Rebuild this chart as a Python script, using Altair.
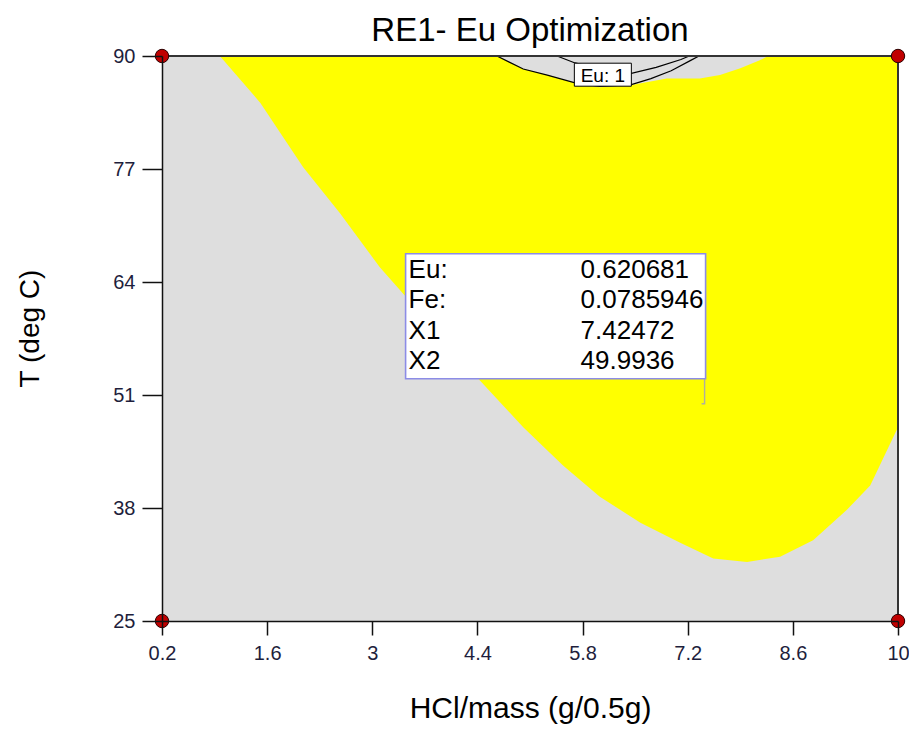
import altair as alt
import pandas as pd

# axis ranges and tick values
x_domain = [0.2, 10.0]
y_domain = [25.0, 90.0]
x_ticks = [0.2, 1.6, 3, 4.4, 5.8, 7.2, 8.6, 10]
y_ticks = [25, 38, 51, 64, 77, 90]

# lower edge of the yellow (feasible) region
edge_x = [0.97, 1.51, 2.08, 2.57, 3.10, 4.43, 5.01, 5.54, 6.03, 6.57, 7.10, 7.54,
          7.99, 8.43, 8.87, 9.32, 9.63, 10.0]
edge_y = [90.0, 84.6, 77.2, 71.9, 65.7, 52.7, 47.3, 42.9, 39.3, 36.3, 34.0, 32.2,
          31.8, 32.4, 34.3, 37.8, 40.6, 47.3]

# grey pocket cut out at the top of the region (Eu above its limit)
pocket_x = [4.66, 5.01, 5.33, 5.70, 6.03, 6.47, 6.92, 7.36, 7.63, 7.90, 8.16, 8.27]
pocket_y = [90.0, 88.5, 87.8, 86.9, 86.4, 86.7, 87.4, 87.4, 87.8, 88.6, 89.5, 90.0]

# Eu = 1 contour lines
contour_outer_x = [4.66, 5.01, 5.33, 5.70, 6.03, 6.45, 6.71, 6.98, 7.24, 7.35]
contour_outer_y = [90.0, 88.5, 87.8, 86.9, 86.5, 86.7, 87.4, 88.3, 89.5, 90.0]
contour_inner_x = [5.46, 5.70, 6.03, 6.45, 6.78, 7.11, 7.22]
contour_inner_y = [90.0, 89.2, 88.5, 88.0, 88.7, 89.6, 90.0]
contour_label = "Eu: 1"
contour_label_at = [6.07, 87.85]

# flag readout
flag_names = ["Eu:", "Fe:", "X1", "X2"]
flag_values = ["0.620681", "0.0785946", "7.42472", "49.9936"]
flag_point = [float(flag_values[2]), float(flag_values[3])]

FONT = "Liberation Sans"
GREY = "#dedede"
YELLOW = "#ffff00"
FLAG_BLUE = "#8c8ce6"

xs = alt.Scale(domain=x_domain, nice=False, zero=False)
ys = alt.Scale(domain=y_domain, nice=False, zero=False)

x_axis = alt.Axis(
    values=x_ticks, format=".1~f", grid=False, zindex=1, labelFlush=False,
    labelFontSize=20, labelColor="#1e1e3c", labelPadding=8, labelFont=FONT,
    tickSize=14, tickWidth=1.5, tickColor="#111111",
    domainColor="#111111", domainWidth=1.5,
    title="HCl/mass (g/0.5g)", titleFontSize=30, titleFontWeight="normal",
    titleFont=FONT, titleColor="#000000",
    titleX=368, titleY=87, titleBaseline="middle", titleAlign="center",
)
y_axis = alt.Axis(
    values=y_ticks, format="d", grid=False, zindex=1, labelFlush=False,
    labelFontSize=20, labelColor="#1e1e3c", labelPadding=7, labelFont=FONT,
    tickSize=20, tickWidth=1.5, tickColor="#111111",
    domainColor="#111111", domainWidth=1.5,
    title="T (deg C)", titleFontSize=28, titleFontWeight="normal",
    titleFont=FONT, titleColor="#000000",
    titleX=-132, titleY=272, titleBaseline="middle", titleAlign="center",
    titleAngle=270,
)

edge_df = pd.DataFrame({"x": edge_x, "y": edge_y, "top": y_domain[1]})
pocket_df = pd.DataFrame({"x": pocket_x, "y": pocket_y, "top": y_domain[1]})

contour_df = pd.concat([
    pd.DataFrame({"x": contour_outer_x, "y": contour_outer_y, "line": "outer",
                  "i": range(len(contour_outer_x))}),
    pd.DataFrame({"x": contour_inner_x, "y": contour_inner_y, "line": "inner",
                  "i": range(len(contour_inner_x))}),
], ignore_index=True)

label_df = pd.DataFrame({"x": [contour_label_at[0]], "y": [contour_label_at[1]],
                         "t": [contour_label]})
point_df = pd.DataFrame({"x": [flag_point[0]], "y": [flag_point[1]]})
corner_df = pd.DataFrame({
    "x": [x_domain[0], x_domain[1], x_domain[0], x_domain[1]],
    "y": [y_domain[0], y_domain[0], y_domain[1], y_domain[1]],
})
frame_df = pd.DataFrame({"x": [x_domain[0]], "x1": [x_domain[1]],
                         "y": [y_domain[0]], "y1": [y_domain[1]]})

# every layer shares the same scales and axis definitions
X = alt.X("x:Q", scale=xs, axis=x_axis)
Y = alt.Y("y:Q", scale=ys, axis=y_axis)

# yellow region: from its lower edge up to the top of the plot
yellow = alt.Chart(edge_df).mark_area(color=YELLOW, opacity=1).encode(
    x=X, y=Y, y2="top:Q"
)
pocket = alt.Chart(pocket_df).mark_area(color=GREY, opacity=1).encode(
    x=X, y=Y, y2="top:Q"
)
contours = alt.Chart(contour_df).mark_line(color="#000000", strokeWidth=1.2).encode(
    x=X, y=Y, detail="line:N", order="i:Q"
)

# symbol paths are drawn at size 4 so that path units are pixels
label_box = alt.Chart(label_df).mark_point(
    shape="M-28.5,-11.5H28.5V11.5H-28.5Z", size=4, filled=True,
    fill="#ffffff", fillOpacity=1, stroke="#000000", strokeWidth=1, strokeOpacity=1,
).encode(x=X, y=Y)
label_text = alt.Chart(label_df).mark_text(
    fontSize=19, font=FONT, color="#000000", align="center", baseline="middle", dy=1
).encode(x=X, y=Y, text="t:N")

flag_box = alt.Chart(point_df).mark_point(
    shape="M-299,-150H1V-25H-299Z", size=4, filled=True,
    fill="#ffffff", fillOpacity=1, stroke=FLAG_BLUE, strokeWidth=1.6, strokeOpacity=1,
).encode(x=X, y=Y)
flag_pointer = alt.Chart(point_df).mark_point(
    shape="M0,-25V0H-3", size=4, filled=False,
    stroke=FLAG_BLUE, strokeWidth=1.4, strokeOpacity=1,
).encode(x=X, y=Y)

flag_layers = []
for i, (name, val) in enumerate(zip(flag_names, flag_values)):
    dy = -134 + 30.5 * i
    flag_layers.append(
        alt.Chart(point_df).mark_text(
            text=name, fontSize=26, font=FONT, color="#000000",
            align="left", baseline="middle", dx=-296, dy=dy,
        ).encode(x=X, y=Y)
    )
    flag_layers.append(
        alt.Chart(point_df).mark_text(
            text=val, fontSize=26, font=FONT, color="#000000",
            align="left", baseline="middle", dx=-124, dy=dy,
        ).encode(x=X, y=Y)
    )

# top and right frame lines
frame_right = alt.Chart(frame_df).mark_rule(color="#333333", strokeWidth=2).encode(
    x=alt.X("x1:Q", scale=xs, axis=x_axis),
    y=Y, y2="y1:Q",
)
frame_top = alt.Chart(frame_df).mark_rule(color="#333333", strokeWidth=2).encode(
    y=alt.Y("y1:Q", scale=ys, axis=y_axis),
    x=X, x2="x1:Q",
)

corners = alt.Chart(corner_df).mark_point(
    filled=True, shape="circle", size=180, fill="#c00000", fillOpacity=1,
    stroke="#2a0000", strokeWidth=1, strokeOpacity=1,
).encode(x=X, y=Y)

chart = alt.layer(
    yellow, pocket, contours, label_box, label_text,
    frame_right, frame_top,
    flag_box, flag_pointer, *flag_layers,
    corners,
).properties(
    width=736, height=565,
    title=alt.TitleParams(
        "RE1- Eu Optimization", fontSize=33, fontWeight="normal", font=FONT,
        color="#000000", anchor="middle", offset=14, dy=16,
    ),
    autosize=alt.AutoSizeParams(type="none"),
    padding={"left": 162, "top": 56, "right": 11, "bottom": 127},
).configure(
    font=FONT, background="#ffffff"
).configure_view(
    fill=GREY, strokeWidth=0
)

chart.save("out.html", embed_options={"renderer": "svg", "actions": False})
